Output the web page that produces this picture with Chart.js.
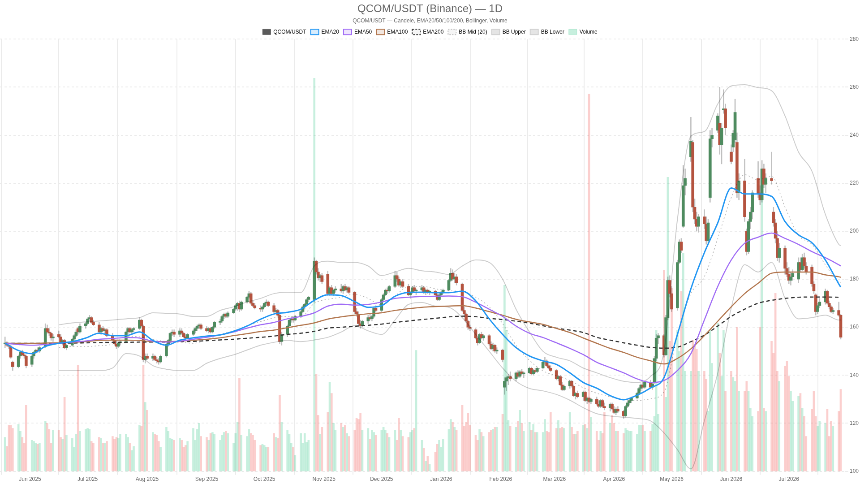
<!DOCTYPE html>
<html>
<head>
<meta charset="utf-8">
<script src="https://cdn.jsdelivr.net/npm/chart.js@4.4.1/dist/chart.umd.min.js"></script>
<style>
  html, body { margin: 0; padding: 0; background: #fff; overflow: hidden; }
</style>
</head>
<body>
<canvas id="chart" width="1920" height="1080" style="width:860px;height:484px;display:block"></canvas>
<script>
// daily candles, weekdays only, starting Mon 19 May 2025
const startDate = '2025-05-19';

const opens = [
  153,153.5,152.5,152,145.5, 143.5,148,149.5,148.5,148, 144.5,148,149.5,150.5,150, 152,159.5,158,157.5,155.5,
  157,156,153.5,154.5,151.5, 152.5,155,156.5,159.5,158, 160.5,161.5,163.5,164,162, 161,158,159.5,158.5,159,
  156.5,154.5,153,152,153.5, 154,158,159.5,158,159, 159.5,163,160.5,146.5,148, 147,148,146.5,146,145.5,
  148,153,154.5,157.5,158, 157,158.5,157.5,156,155.5, 157,158.5,159.5,160.5,161, 159.5,158.5,159.5,158,160,
  162,162.5,164.5,165.5,164.5, 166,167.5,169,170,167.5, 170.5,172.5,174,170,169, 168,167.5,168.5,170,170.5,
  169,166.5,167,165,154, 157,160.5,163,163.5,163, 164.5,166.5,168.5,169.5,171.5, 171.5,187.5,183,180.5,181.5,
  182,174,176.5,174,175.5, 176,175,177,175.5,176.5, 174.5,166.5,165.5,161.5,160.5, 162.5,164,163.5,164.5,168,
  167,171.5,173.5,175.5,175, 177,181.5,180,177.5,179, 177,173.5,174.5,176.5,175, 175.5,176.5,174.5,175.5,174.5,
  175,173.5,171.5,173.5,174.5, 175.5,179.5,182.5,180,181, 178,167,165.5,162.5,160, 159,155.5,153.5,157,155.5,
  156.5,153,151,152.5,150, 150.5,135,137.5,139,139.5, 138.5,141,139.5,141.5,140.5, 141,143,140.5,142,141.5,
  143,145.5,146,144,143, 142,138.5,139.5,136,134, 135.5,137.5,135.5,131.5,132.5, 131,133,129.5,130.5,129,
  130,128,127,129.5,127, 126.5,128,126,124.5,126, 125,123,127,128.5,129.5, 130.5,132.5,134.5,136,135,
  137,135,137,147,155.5, 156.5,148.5,164,179.5,174, 168,187,195.5,202,219, 231,237,210,205,202,
  206,203,196,214,238.5, 242,245,236,250.5,251, 233,235,238,237,216, 221,200,191.5,204,208,
  222,216,213,226,219.5, 222,208,203.5,197,189, 193,184.5,182,179.5,181, 180,187,184,189,185.5,
  185,178,173.5,166.5,169, 170.5,175,170,168.5,166.5, 167,165
];
const highs = [
  156,154,153,152.5,146, 148.5,150,150.5,149.5,148.5, 148.5,150,151,151.5,152, 161.5,161,159.5,158,157,
  158.5,157,155,155,153, 155.5,157,159,160,161.5, 162,164,165,164.5,163, 162,160,160.5,159.5,159.5,
  157.5,155.5,154.5,154,154.5, 158.5,160,160,159.5,160, 164,163.5,161,149,149, 149,148.5,147.5,147,148.5,
  153.5,155,158,159,159, 159.5,159.5,158,157,157.5, 159,160,161,161.5,161.5, 160.5,160,160,160.5,162.5,
  163.5,165,166,166,166.5, 168,169.5,170.5,171,171, 173,175,174.5,171,170, 169,169,170.5,171.5,171,
  170,168,167.5,165.5,158, 161,163.5,164.5,164,165, 167,169,170,172,173, 189,188,184.5,182,182.5,
  183.5,177,177.5,176,177, 178,177.5,178,177,177, 175,168,166.5,163,163, 165,165.5,165,168.5,169,
  172,174,176,176.5,177.5, 183.5,183,181,179.5,180, 178,175,177,177.5,176, 177.5,177,176,176,175.5,
  175.5,174,174,175,176, 180,184.5,184,182.5,182, 178.5,168.5,166,163,161, 159.5,156,157.5,158,157,
  157,154,153.5,153,151.5, 151,139,139.5,140.5,141.5, 141.5,142,142,142.5,141.5, 143.5,143.5,142.5,143,143.5,
  146,147.5,146.5,145,144, 142.5,140,140,137,136, 138,138,136,133,133.5, 133.5,133.5,131,131,130.5,
  131,129.5,130,130,128.5, 128.5,128.5,127,126.5,127, 125.5,127.5,129.5,130,131, 133,135,136.5,137,137.5,
  138,137,148,157,157.5, 157,165,181,181.5,177, 188,196.5,197,227.5,226, 247.5,238,213.5,208,207,
  209,206,205,242,243, 249,260,245,259,253, 236,242,255,241,224, 230,201,205,210,217,
  229,219,229.5,228,224, 233,210,205,200,195, 194,187,185,183,184, 189,189,190.5,191,187,
  186,179,174,170,172, 176,175.5,171,169,168, 170.5,165.5
];
const lows = [
  151.5,152,151,147,142, 143,147,148,147,143, 143.5,147,149,149.5,149.5, 151.5,157.5,156.5,154.5,154,
  155.5,153,152.5,151,150.5, 152,154,156,157,157.5, 159.5,161,162.5,161.5,160.5, 157.5,157,158,157,156,
  154,152.5,151,151.5,152.5, 153.5,157,157.5,157,158, 159,160,145.5,145,146.5, 146,146,145,144.5,145,
  147.5,152,154,156.5,156, 156,157,155.5,154.5,155, 156.5,157.5,158.5,159.5,159, 158,157.5,157.5,157.5,159.5,
  161,162,163.5,164,164, 165.5,167,167,166.5,167, 170,172,169.5,168.5,167.5, 166.5,166.5,168,169,168.5,
  166,165.5,164.5,153,152.5, 156,160,162,162,162.5, 164,166,167.5,169,170.5, 170.5,182,179.5,179,178,
  173,173,173.5,173,174.5, 174.5,174,175,174.5,174, 165.5,164.5,161,159.5,160, 161.5,163,162.5,164,166.5,
  166.5,170.5,173,174,174.5, 176.5,179,177,176.5,176.5, 173,172,174,174.5,173.5, 175,174,173.5,174,173.5,
  173,171,171,173,174, 175,179,179.5,178.5,177.5, 166.5,165,162,159,158.5, 155,152.5,153,155,154.5,
  152.5,150.5,150,149.5,149, 145.5,132,133.5,136,137.5, 137.5,139,139,140,139, 140.5,140,140,141,141,
  142.5,144.5,143.5,142.5,141.5, 138,137.5,135.5,133.5,133.5, 134.5,135,131,130,130.5, 129.5,129,128,128.5,128,
  127.5,126.5,126.5,126.5,125.5, 125,125.5,124,123.5,124.5, 122,122.5,126.5,127.5,128.5, 130,132,133.5,134.5,134.5,
  134.5,134,136.5,146,153, 147.5,148,163,172.5,166.5, 167,186.5,191,201.5,215, 229,208,203,200,199.5,
  201,194.5,195,212,235, 241,232,228,249,240, 228,233,237,214,213, 204,190,190.5,201,205,
  214,211,212,218,216, 219.5,202,195,187.5,187, 182,181,178,177.5,179.5, 178.5,183,183.5,184.5,182,
  177,174,165,165.5,168, 169.5,169.5,167.5,166,165.5, 164.5,155
];
const closes = [
  153.5,152.5,152,147.5,143.5, 148,149.5,148.5,148,144, 148,149.5,150.5,150,151.5, 159.5,158,157.5,155.5,156,
  156,153.5,154.5,151.5,152.5, 155,156.5,158,158,160.5, 161.5,163.5,164,162,161, 158,159.5,158.5,159,156.5,
  154.5,153,152,153.5,154, 158,159.5,158,159,159.5, 163,160.5,146.5,148,147, 148,146.5,146,145.5,148,
  153,154.5,157.5,158,157, 158.5,157.5,156,155.5,157, 158.5,159.5,160.5,161,159.5, 158.5,159.5,158,160,162,
  162.5,164.5,165.5,164.5,166, 167.5,169,170,167.5,170.5, 172.5,174,170,169,168, 167.5,168.5,170,170.5,169,
  166.5,167,165,154,157, 160.5,163,163.5,163,164.5, 166.5,168.5,169.5,171.5,172.5, 187.5,183,180.5,181.5,179,
  174,176.5,174,175.5,176, 175,177,175.5,176.5,174.5, 166.5,165.5,161.5,160.5,162.5, 164,163.5,164.5,168,167,
  171.5,173.5,175.5,175,177, 181.5,180,177.5,179,177, 173.5,174.5,176.5,175,175.5, 176.5,174.5,175.5,174.5,175,
  173.5,171.5,173.5,174.5,175.5, 179.5,182.5,180,181,178.5, 167,165.5,162.5,160,159.5, 155.5,153.5,157,155.5,156.5,
  153,151,152.5,150,150.5, 146.5,137.5,139,139.5,138.5, 141,139.5,141.5,140.5,141, 143,140.5,142,141.5,143,
  145.5,146,144,143,142, 138.5,139.5,136,134,135.5, 137.5,135.5,131.5,132.5,131, 133,129.5,130.5,129,130,
  128,127,129.5,127,126.5, 128,126,124.5,126,125, 123,127,128.5,129.5,130.5, 132.5,134.5,136,135,137,
  135,136.5,147,155.5,156.5, 148.5,164,179.5,174,167.5, 187,195.5,192,219,222, 237.5,210,205,202,206,
  203,196,203.5,238.5,240, 248,236,243,251,243, 229,240.8,249.5,216,221, 206,191.5,204,208,216,
  215.5,213,226,219.5,222, 221,203.5,197,189,193, 184.5,182,179.5,181,182.5, 187,184,189,185.5,183,
  178,175,166.5,169,170.5, 175,170,168.5,166.5,167, 165,155.8
];
const volumes = [
  34,25,46,46,43, 47,40,34,28,66, 31,30,28,27,28, 50,48,42,28,41, 41,34,32,74,36, 33,24,37,106,40,
  42,43,42,30,28, 34,33,28,28,30, 35,32,34,33,37, 37,34,28,21,25, 46,45,106,69,61, 39,37,36,30,24,
  44,40,33,32,31, 33,31,24,26,30, 43,31,42,48,35, 34,31,38,39,37, 31,36,39,40,38, 28,38,49,93,36,
  35,42,38,36,31, 26,27,26,24,24, 38,34,33,76,49, 41,37,28,24,16, 38,28,38,29,31, 393,97,56,37,44,
  59,89,78,48,41, 48,44,46,38,35, 41,53,52,58,41, 43,32,41,39,36, 41,44,41,38,34, 41,31,53,41,35,
  34,39,41,43,121, 31,23,10,15,7, 19,27,31,24,32, 42,52,49,44,41, 66,45,49,58,46, 36,31,42,39,35,
  39,41,42,44,44, 57,186,141,51,45, 44,50,61,48,40, 49,41,47,39,39, 39,52,40,39,59, 43,51,43,44,43,
  59,44,37,37,40, 46,47,43,377,54, 40,31,40,38,59, 48,56,48,40,40, 38,43,41,40,40, 37,46,46,46,40,
  40,47,55,141,57, 201,74,294,130,183, 141,120,180,218,100, 100,131,126,122,100, 100,92,60,141,108,
  148,118,95,141,80, 100,94,90,144,80, 80,90,80,63,55, 60,144,288,63,60, 130,118,178,100,90,
  105,110,95,80,70, 75,78,63,55,35, 62,80,55,45,50, 48,62,35,50,45, 60,82
];

// indicator lines read once a week (every 5th candle) plus the last candle
const ema20 = [153.3,150.3,149,152,153.3,154,155.5,157.5,156.5,156.5,158,154.5,152.5,154.6,155.6,156.3,156.8,158.3,160.5,163.3,
  165.5,166.2,167.5,171.2,173.5,173.2,170.7,168.3,169,172.9,174.5,174.6,174.4,174.4,175,171,163.5,157,151.5,148,
  146,144.5,141,137,134.6,131.5,129.8,131.7,134.7,139,157,176,191,203.5,218,215.5,215.5,214.5,204,198.5,195.2,188,178,176.7];
const ema50 = [153.3,152.8,152.5,152.8,153.3,153.8,154.3,155,155.3,155.7,155.5,154.2,153.8,154.2,155,155.8,156.8,158,159.6,161,
  162,163.5,164.5,166,168.8,169.6,169.2,169.5,170.5,172,172.5,172.8,172.9,173,172.7,170.4,167.5,164.5,160.5,157.5,
  155.7,153.5,151.2,148.6,145.4,143.2,141,138.5,137,137.8,142,149,163,177,188,195,197.5,199.2,197,194.5,191.5,189,186,185.5];
const ema100 = [153.3,153.3,153.3,153.4,153.5,153.7,154,154.5,154.6,154.6,154.5,154,154,154.2,154.6,155,155.6,156.5,157.3,158.2,
  158.8,159.8,160.8,161.8,163.4,164.3,165,165.6,166,167,167.7,168.3,168.6,168.8,169,168,166.5,165,163.3,162.2,
  161.2,159.5,157.8,155.5,153.3,151.2,149.5,147.5,146,144.7,147,151,156.5,162.5,168.5,174,178.3,182.5,183,183,183,181.8,181,180.8];
const ema200 = [153.3,153.3,153.3,153.3,153.4,153.4,153.5,153.6,153.7,153.7,153.8,153.8,153.8,154,154.1,154.4,154.7,155,155.4,155.8,
  156.3,157,157.5,158.3,159.6,160,160.4,160.8,161.3,162,162.6,163.2,163.7,164.3,164.6,164.4,163.7,163.2,162.5,161.7,
  160.6,159.6,158.8,157.8,155.8,154.6,153.5,152.5,151.6,151.3,151.7,154,156.7,160.5,164.5,167.5,170,171.2,172,172.5,172.6,172.6,172.5,172.5];
const bbUpper = [null,null,null,null,161,161.8,162.2,162.6,163,163.5,164,166,165.8,165.5,164.5,164.5,167,168.5,170.5,172,
  174,174.6,174.5,185.5,187.5,187,187,185.5,181.5,183,184.5,183.5,183,182,185.5,188,187,180,167.5,158,
  150,147.5,146,143,141,139,137.5,137,139.5,150,205,239.5,241.5,253,260.5,261,259.8,258.5,248,233,225,207,194.5,194];
const bbLower = [null,null,null,null,142,142,142,142,143,149,148,144,142.5,142,142,145,147,148.5,150.5,152.5,
  153.7,154.5,154,154.7,155.8,158,160.7,158.5,157,163,169.5,170.3,168.8,168.3,164,157,150,143,137.5,134.5,
  133.5,132,129.6,126.5,124,123,122.5,122,121,116,109,101,121,141,168,186,183,187,172,163.5,164,165,163,163];
const bbMid = [null,null,null,null,151.5,152,152,152.3,153,156.2,156,155,154,153.8,153.3,154.8,157,158.5,160.5,162.3,
  163.9,164.5,164.3,170,171.6,172.5,173.8,172,169.3,173,177,177,176,175.2,174.8,172.5,168.5,161.5,152.5,146.2,
  141.8,139.8,137.8,134.8,132.5,131,130,129.5,130.2,133,157,174,181,197,214,223.5,221.4,222.8,210,198.3,194.5,186,178.8,178.5];

const monthTicks = ['2025-06-01','2025-07-01','2025-08-01','2025-09-01','2025-10-01','2025-11-01','2025-12-01',
  '2026-01-01','2026-02-01','2026-03-01','2026-04-01','2026-05-01','2026-06-01','2026-07-01'];
const monthLabels = ['Jun 2025','Jul 2025','Aug 2025','Sep 2025','Oct 2025','Nov 2025','Dec 2025',
  'Jan 2026','Feb 2026','Mar 2026','Apr 2026','May 2026','Jun 2026','Jul 2026'];

function dayNum(s) {
  const [y, m, d] = s.split('-').map(Number);
  const [y0, m0, d0] = startDate.split('-').map(Number);
  return (Date.UTC(y, m - 1, d) - Date.UTC(y0, m0 - 1, d0)) / 864e5;
}

// calendar day offset of every trading day
const dayIdx = [];
for (let d = 0; dayIdx.length < closes.length; d++) {
  const wd = new Date(Date.UTC(2025, 4, 19 + d)).getUTCDay();
  if (wd !== 0 && wd !== 6) dayIdx.push(d);
}
const monthDays = monthTicks.map(dayNum);
const sampleIdx = ema20.map((_, j) => Math.min(j * 5, closes.length - 1));

const upCol = '#4e8b5f', downCol = '#b4533f';
const volUp = 'rgba(38,194,129,0.26)', volDown = 'rgba(239,83,80,0.28)';
const isUp = closes.map((c, i) => c >= opens[i]);

function lineData(arr) {
  return arr.map((v, j) => ({ x: dayIdx[sampleIdx[j]], y: v }));
}
function lineSet(label, arr, color, width, dash, order) {
  return {
    type: 'line', label, data: lineData(arr), borderColor: color, borderWidth: width,
    borderDash: dash || [], pointRadius: 0, fill: false, cubicInterpolationMode: 'monotone',
    spanGaps: false, order
  };
}

const legendItems = [
  { text: 'QCOM/USDT', fillStyle: '#5a5a5a', strokeStyle: '#5a5a5a', lineWidth: 1 },
  { text: 'EMA20', fillStyle: 'rgba(33,150,243,0.18)', strokeStyle: '#2196f3', lineWidth: 2 },
  { text: 'EMA50', fillStyle: 'rgba(160,108,245,0.18)', strokeStyle: '#a06cf5', lineWidth: 2 },
  { text: 'EMA100', fillStyle: 'rgba(178,118,78,0.18)', strokeStyle: '#b2764e', lineWidth: 2 },
  { text: 'EMA200', fillStyle: 'rgba(0,0,0,0.04)', strokeStyle: '#333', lineWidth: 2, lineDash: [4, 3] },
  { text: 'BB Mid (20)', fillStyle: 'rgba(0,0,0,0.04)', strokeStyle: '#bbb', lineWidth: 2, lineDash: [3, 3] },
  { text: 'BB Upper', fillStyle: 'rgba(0,0,0,0.1)', strokeStyle: '#d0d0d0', lineWidth: 2 },
  { text: 'BB Lower', fillStyle: 'rgba(0,0,0,0.1)', strokeStyle: '#d0d0d0', lineWidth: 2 },
  { text: 'Volume', fillStyle: volUp, strokeStyle: volUp, lineWidth: 1 }
];

const ctx = document.getElementById('chart').getContext('2d');
new Chart(ctx, {
  type: 'bar',
  data: {
    datasets: [
      lineSet('EMA20', ema20, '#2196f3', 3, null, 1),
      lineSet('EMA50', ema50, '#a06cf5', 2.5, null, 2),
      lineSet('EMA100', ema100, '#b2764e', 2.5, null, 3),
      lineSet('EMA200', ema200, '#333', 2.5, [8, 6], 4),
      lineSet('BB Mid (20)', bbMid, 'rgba(0,0,0,0.3)', 1.5, [3, 5], 5),
      lineSet('BB Upper', bbUpper, 'rgba(0,0,0,0.2)', 2, null, 5),
      lineSet('BB Lower', bbLower, 'rgba(0,0,0,0.2)', 2, null, 5),
      {
        type: 'bar', label: 'QCOM/USDT',
        data: dayIdx.map((x, i) => ({ x, y: [opens[i], closes[i]] })),
        backgroundColor: isUp.map(u => u ? upCol : downCol),
        barThickness: 6, minBarLength: 2, grouped: false, order: 6
      },
      {
        type: 'bar', label: 'wick',
        data: dayIdx.map((x, i) => ({ x, y: [lows[i], highs[i]] })),
        backgroundColor: 'rgba(0,0,0,0.25)',
        barThickness: 2, grouped: false, order: 7
      },
      {
        type: 'bar', label: 'Volume', yAxisID: 'yVol',
        data: dayIdx.map((x, i) => ({ x, y: volumes[i] })),
        backgroundColor: isUp.map(u => u ? volUp : volDown),
        barThickness: 4, grouped: false, order: 10
      }
    ]
  },
  options: {
    responsive: false,
    devicePixelRatio: 1,
    animation: false,
    layout: { padding: 0 },
    plugins: {
      title: {
        display: true, text: 'QCOM/USDT (Binance) — 1D', color: '#666',
        font: { size: 24, weight: 'normal' }, padding: { top: 6, bottom: 5 }
      },
      subtitle: {
        display: true, text: 'QCOM/USDT — Candele, EMA20/50/100/200, Bollinger, Volume', color: '#666',
        font: { size: 12 }, padding: { top: 0, bottom: 1 }
      },
      legend: {
        labels: {
          boxWidth: 18, boxHeight: 12, color: '#666', font: { size: 12 },
          generateLabels: () => legendItems.map((it, i) => Object.assign({ hidden: false, datasetIndex: i }, it))
        }
      },
      tooltip: { enabled: false }
    },
    scales: {
      x: {
        type: 'linear', min: -2.6, max: 437.1, offset: false,
        afterBuildTicks: axis => { axis.ticks = monthDays.map(v => ({ value: v })); },
        ticks: { autoSkip: false, maxRotation: 0, color: '#666', font: { size: 12 },
          callback: (v, i) => monthLabels[i] },
        grid: { offset: true, color: '#ebebeb', lineWidth: 2 },
        border: { display: false }
      },
      y: {
        position: 'right', min: 100, max: 280,
        ticks: { stepSize: 20, color: '#666', font: { size: 12 } },
        grid: { color: '#ebebeb', lineWidth: 2 },
        border: { display: false, dash: [5, 5] }
      },
      yVol: { display: false, min: 0, max: 432 }
    }
  }
});
</script>
</body>
</html>
